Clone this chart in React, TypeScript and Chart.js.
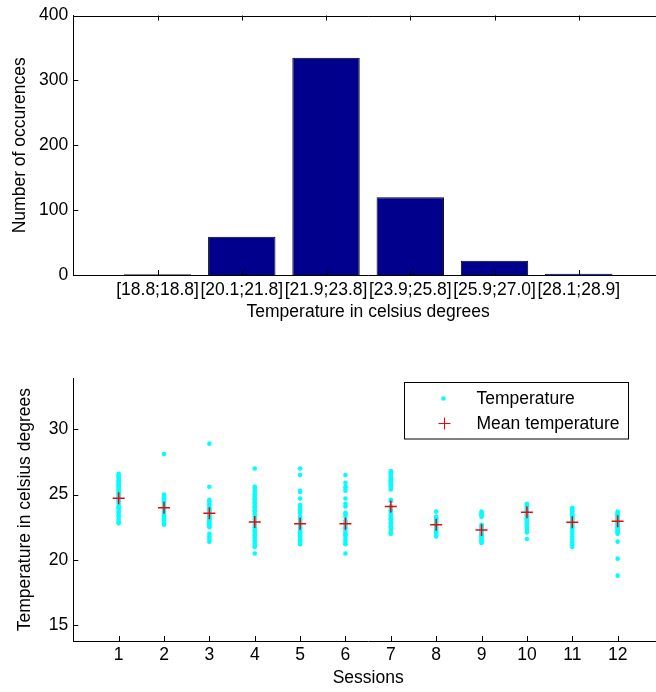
import React, { useEffect, useRef } from "react";
import { Chart, registerables } from "chart.js";

Chart.register(...registerables);

// ---------- data ----------
const binLabels = ["[18.8;18.8]", "[20.1;21.8]", "[21.9;23.8]", "[23.9;25.8]", "[25.9;27.0]", "[28.1;28.9]"];
const binCounts = [1, 59, 335, 120, 22, 2];

const sessionLabels = ["1", "2", "3", "4", "5", "6", "7", "8", "9", "10", "11", "12"];

const s1 = [26.6, 26.5, 26.4, 26.3, 26.2, 26.1, 26.0, 25.9, 25.8, 25.7, 25.6, 25.5, 25.4, 25.3, 25.2, 25.1, 25.0, 24.9, 24.8, 24.7, 24.6, 24.5, 24.3, 24.1, 24.0, 23.9, 23.7, 23.6, 23.4, 23.3, 23.1, 22.9, 22.8];
const s2 = [28.1, 25.0, 24.9, 24.8, 24.7, 24.6, 24.5, 24.4, 24.3, 24.2, 24.1, 24.0, 23.9, 23.8, 23.7, 23.6, 23.5, 23.4, 23.3, 23.2, 23.1, 23.0, 22.9, 22.8, 22.7];
const s3 = [28.9, 25.6, 24.6, 24.5, 24.3, 24.2, 24.0, 23.9, 23.8, 23.7, 23.6, 23.5, 23.4, 23.3, 23.2, 23.1, 23.0, 22.9, 22.8, 22.7, 22.6, 22.5, 22.0, 21.8, 21.6, 21.4];
const s4 = [27.0, 25.6, 25.5, 25.3, 25.2, 25.0, 24.9, 24.7, 24.6, 24.4, 24.3, 24.1, 24.0, 23.8, 23.7, 23.5, 23.3, 23.1, 22.9, 22.7, 22.5, 22.3, 22.2, 22.0, 21.9, 21.7, 21.5, 21.3, 21.1, 21.0, 20.5];
const s5 = [27.0, 26.5, 25.3, 25.2, 24.7, 24.2, 24.1, 24.0, 23.8, 23.6, 23.3, 23.1, 23.0, 22.9, 22.8, 22.7, 22.6, 22.5, 22.4, 22.3, 22.2, 22.1, 22.0, 21.9, 21.8, 21.7, 21.6, 21.5, 21.4, 21.3, 21.2];
const s6 = [26.5, 25.9, 25.6, 25.5, 25.3, 24.7, 24.3, 24.1, 23.6, 23.5, 23.3, 23.0, 22.9, 22.8, 22.7, 22.5, 22.4, 22.2, 22.0, 21.9, 21.7, 21.5, 21.3, 21.2, 20.5];
const s7 = [26.8, 26.7, 26.6, 26.5, 26.4, 26.3, 26.2, 26.1, 26.0, 25.9, 25.8, 25.7, 25.6, 25.5, 25.4, 24.6, 24.5, 24.1, 24.0, 23.8, 23.7, 23.5, 23.4, 23.2, 23.1, 22.9, 22.8, 22.6, 22.5, 22.3, 22.1, 22.0];
const s8 = [23.7, 23.3, 23.2, 23.1, 23.0, 22.9, 22.8, 22.7, 22.6, 22.5, 22.4, 22.3, 22.2, 22.1, 22.0, 21.9, 21.8];
const s9 = [23.7, 23.6, 23.5, 23.4, 23.3, 22.7, 22.6, 22.5, 22.4, 22.3, 22.2, 22.1, 22.0, 21.9, 21.8, 21.7, 21.6, 21.5, 21.4, 21.3];
const s10 = [24.3, 24.2, 24.1, 24.0, 23.9, 23.8, 23.7, 23.6, 23.5, 23.4, 23.3, 23.2, 23.1, 23.0, 22.9, 22.8, 22.7, 22.6, 22.5, 22.3, 22.1, 21.6];
const s11 = [24.0, 23.9, 23.8, 23.7, 23.6, 23.5, 23.4, 23.3, 23.2, 23.1, 23.0, 22.9, 22.8, 22.7, 22.6, 22.5, 22.4, 22.2, 22.0, 21.8, 21.6, 21.4, 21.2, 21.0];
const s12 = [23.7, 23.6, 23.5, 23.4, 23.3, 23.2, 23.1, 23.0, 22.9, 22.8, 22.7, 22.6, 22.5, 22.4, 22.3, 22.2, 22.1, 22.0, 21.4, 20.1, 18.8];
const sessionTemps = [s1, s2, s3, s4, s5, s6, s7, s8, s9, s10, s11, s12];

const meanTemps = [24.73, 24.0, 23.57, 22.9, 22.78, 22.78, 24.1, 22.7, 22.29, 23.65, 22.88, 22.96];

// ---------- styling ----------
const FAMILY = "'Liberation Sans', Arial, Helvetica, sans-serif";
const font = { family: FAMILY, size: 17.5, lineHeight: 1.2 };
const BLACK = "#000";

const matlabTicks = (box: boolean) => ({
  id: "matlabTicks",
  afterDatasetsDraw(chart: any) {
    const { ctx, chartArea: a, scales } = chart;
    const x = scales.x;
    const y = scales.y;
    ctx.save();
    ctx.strokeStyle = BLACK;
    ctx.lineWidth = 1;
    ctx.beginPath();
    x.ticks.forEach((t: any) => {
      if (t.value <= x.min || t.value >= x.max) return;
      const px = Math.round(x.getPixelForValue(t.value)) + 0.5;
      ctx.moveTo(px, a.bottom);
      ctx.lineTo(px, a.bottom - 5);
      if (box) {
        ctx.moveTo(px, a.top);
        ctx.lineTo(px, a.top + 5);
      }
    });
    y.ticks.forEach((t: any) => {
      const py = Math.round(y.getPixelForValue(t.value)) + 0.5;
      ctx.moveTo(a.left, py);
      ctx.lineTo(a.left + 5, py);
      if (box) {
        ctx.moveTo(a.right, py);
        ctx.lineTo(a.right - 5, py);
      }
    });
    if (box) {
      ctx.moveTo(a.left, Math.round(a.top) + 0.5);
      ctx.lineTo(a.right, Math.round(a.top) + 0.5);
      ctx.moveTo(Math.round(a.right) - 0.5, a.top);
      ctx.lineTo(Math.round(a.right) - 0.5, a.bottom);
    }
    ctx.stroke();
    ctx.restore();
  },
});

const boxLegend = {
  id: "boxLegend",
  afterDraw(chart: any) {
    const { ctx } = chart;
    const ds = chart.data.datasets;
    const left = 404.5;
    const top = 42.5;
    const w = 224;
    const h = 56.5;
    ctx.save();
    ctx.fillStyle = "#fff";
    ctx.fillRect(left, top, w, h);
    ctx.strokeStyle = BLACK;
    ctx.lineWidth = 1;
    ctx.strokeRect(left, top, w, h);
    // entry 1: dot
    ctx.fillStyle = ds[0].backgroundColor;
    ctx.beginPath();
    ctx.arc(443.5, 58.5, 2.3, 0, Math.PI * 2);
    ctx.fill();
    // entry 2: cross
    ctx.strokeStyle = ds[1].borderColor;
    ctx.lineWidth = 1;
    ctx.beginPath();
    ctx.moveTo(438.5, 83.5);
    ctx.lineTo(450.5, 83.5);
    ctx.moveTo(444.5, 77.5);
    ctx.lineTo(444.5, 89.5);
    ctx.stroke();
    ctx.fillStyle = BLACK;
    ctx.font = `${font.size}px ${FAMILY}`;
    ctx.textBaseline = "middle";
    ctx.textAlign = "left";
    ctx.fillText(ds[0].label, 476.5, 59);
    ctx.fillText(ds[1].label, 476.5, 84);
    ctx.restore();
  },
};

export default function App() {
  const topRef = useRef<HTMLCanvasElement>(null);
  const botRef = useRef<HTMLCanvasElement>(null);

  useEffect(() => {
    Chart.defaults.color = BLACK;
    Chart.defaults.font.family = FAMILY;

    const top = new Chart(topRef.current as HTMLCanvasElement, {
      type: "bar",
      data: {
        datasets: [
          {
            label: "Occurences",
            data: binCounts.map((c, i) => ({ x: i + 1, y: c })),
            backgroundColor: "rgb(0,0,140)",
            borderColor: BLACK,
            borderWidth: 1,
            barPercentage: 0.8,
            categoryPercentage: 1,
          } as any,
        ],
      },
      options: {
        animation: false,
        responsive: false,
        devicePixelRatio: 1,
        layout: { padding: { left: 10, top: 12.3, right: 37, bottom: 17.3 } },
        plugins: { legend: { display: false }, tooltip: { enabled: false } },
        scales: {
          x: {
            type: "linear",
            offset: false,
            min: 0,
            max: 7,
            grid: { display: false, drawTicks: false, offset: false },
            border: { display: true, color: BLACK, width: 1 },
            ticks: {
              stepSize: 1,
              autoSkip: false,
              maxRotation: 0,
              minRotation: 0,
              padding: 5,
              font,
              color: BLACK,
              includeBounds: false,
              callback: (v: any) => binLabels[Number(v) - 1] ?? "",
            },
            title: { display: true, text: "Temperature in celsius degrees", font, color: BLACK, padding: 0 },
            afterFit: (s: any) => {
              s.height = 47.7;
            },
          },
          y: {
            type: "linear",
            min: 0,
            max: 400,
            grid: { display: false, drawTicks: false },
            border: { display: true, color: BLACK, width: 1 },
            ticks: { stepSize: 100, padding: 5, font, color: BLACK },
            title: { display: true, text: "Number of occurences", font, color: BLACK, padding: 0 },
            afterFit: (s: any) => {
              s.width = 63.3;
            },
          },
        },
      } as any,
      plugins: [matlabTicks(true)],
    });

    const bottom = new Chart(botRef.current as HTMLCanvasElement, {
      type: "scatter",
      data: {
        datasets: [
          {
            label: "Temperature",
            data: sessionTemps.flatMap((arr, i) => arr.map((v) => ({ x: i + 1, y: v }))),
            backgroundColor: "rgb(0,255,255)",
            borderColor: "rgb(0,255,255)",
            borderWidth: 0,
            pointRadius: 2.3,
            order: 2,
          } as any,
          {
            label: "Mean temperature",
            data: meanTemps.map((m, i) => ({ x: i + 1, y: m })),
            pointStyle: "cross",
            pointRadius: 6,
            borderColor: "rgb(255,0,0)",
            backgroundColor: "rgb(255,0,0)",
            borderWidth: 1.5,
            order: 1,
          } as any,
        ],
      },
      options: {
        animation: false,
        responsive: false,
        devicePixelRatio: 1,
        layout: { padding: { left: 14.7, top: 38.3, right: 37, bottom: 3.5 } },
        plugins: { legend: { display: false }, tooltip: { enabled: false } },
        scales: {
          x: {
            type: "linear",
            min: 0,
            max: 13,
            grid: { display: false, drawTicks: false },
            border: { display: true, color: BLACK, width: 1 },
            ticks: {
              stepSize: 1,
              autoSkip: false,
              maxRotation: 0,
              minRotation: 0,
              padding: 4,
              font,
              color: BLACK,
              includeBounds: false,
              callback: (v: any) => sessionLabels[Number(v) - 1] ?? "",
            },
            title: { display: true, text: "Sessions", font, color: BLACK, padding: 0 },
            afterFit: (s: any) => {
              s.height = 47.5;
            },
          },
          y: {
            type: "linear",
            min: 13.8,
            max: 33.9,
            grid: { display: false, drawTicks: false },
            border: { display: true, color: BLACK, width: 1 },
            ticks: { stepSize: 5, padding: 5, font, color: BLACK, includeBounds: false },
            title: { display: true, text: "Temperature in celsius degrees", font, color: BLACK, padding: 0 },
            afterFit: (s: any) => {
              s.width = 58.6;
            },
          },
        },
      } as any,
      plugins: [matlabTicks(false), boxLegend],
    });

    return () => {
      top.destroy();
      bottom.destroy();
    };
  }, []);

  return (
    <div
      style={{
        position: "fixed",
        left: 0,
        top: 0,
        width: 656,
        height: 692,
        overflow: "hidden",
        background: "#fff",
      }}
    >
      <canvas
        ref={topRef}
        width={700}
        height={340}
        style={{ position: "absolute", left: 0, top: 0, width: 700, height: 340 }}
      />
      <canvas
        ref={botRef}
        width={700}
        height={352}
        style={{ position: "absolute", left: 0, top: 340, width: 700, height: 352 }}
      />
    </div>
  );
}
